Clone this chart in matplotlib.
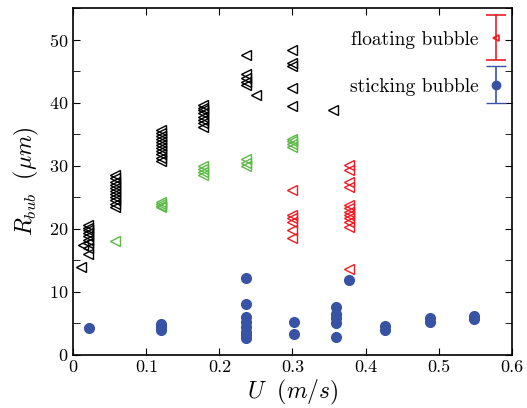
import numpy as np
import matplotlib.pyplot as plt
from matplotlib.ticker import MultipleLocator
from matplotlib.legend_handler import HandlerErrorbar

plt.rcParams['font.family'] = 'cmr10'
plt.rcParams['mathtext.fontset'] = 'cm'
plt.rcParams['axes.formatter.use_mathtext'] = True

# floating bubbles, black group
u_blk = [0.01, 0.013, 0.02, 0.02, 0.02, 0.02, 0.02, 0.02, 0.02, 0.02, 0.02,
         0.057, 0.057, 0.057, 0.057, 0.057, 0.057, 0.057, 0.057, 0.057, 0.057, 0.057,
         0.12, 0.12, 0.12, 0.12, 0.12, 0.12, 0.12, 0.12, 0.12, 0.12, 0.12,
         0.178, 0.178, 0.178, 0.178, 0.178, 0.178, 0.178, 0.178,
         0.236, 0.236, 0.236, 0.236, 0.236, 0.25,
         0.30, 0.30, 0.30, 0.30, 0.30, 0.355]
r_blk = [14.0, 17.5, 16.0, 17.0, 17.8, 18.3, 18.8, 19.3, 19.8, 20.2, 20.6,
         23.5, 24.0, 24.5, 25.0, 25.5, 26.0, 26.5, 27.0, 27.5, 28.0, 28.5,
         30.8, 31.3, 31.8, 32.3, 32.8, 33.3, 33.8, 34.3, 34.8, 35.2, 35.6,
         36.2, 36.8, 37.3, 37.8, 38.3, 38.8, 39.2, 39.6,
         42.8, 43.3, 44.0, 44.6, 47.5, 41.3,
         48.3, 46.3, 45.9, 42.3, 39.5, 38.9]

# floating bubbles, green group
u_grn = [0.057, 0.12, 0.12, 0.12, 0.12, 0.178, 0.178, 0.178, 0.178,
         0.236, 0.236, 0.236, 0.30, 0.30, 0.30, 0.30]
r_grn = [18.0, 23.4, 23.7, 24.0, 24.2, 28.5, 29.0, 29.5, 30.0,
         30.0, 30.5, 31.0, 33.0, 33.5, 34.0, 34.3]

# floating bubbles, red group
u_red = [0.30, 0.30, 0.30, 0.30, 0.30, 0.30,
         0.378, 0.378, 0.378, 0.378, 0.378, 0.378, 0.378, 0.378, 0.378, 0.378, 0.378, 0.378]
r_red = [26.2, 22.2, 21.7, 21.1, 19.8, 18.5,
         30.2, 29.4, 27.5, 26.7, 23.8, 23.3, 22.7, 22.2, 21.7, 21.1, 20.3, 13.6]

# sticking bubbles
u_stk = [0.022, 0.12, 0.12, 0.12,
         0.236, 0.236, 0.236, 0.236, 0.236, 0.236, 0.236, 0.236,
         0.302, 0.302, 0.359, 0.359, 0.359, 0.359, 0.359, 0.377,
         0.426, 0.426, 0.488, 0.488, 0.548, 0.548]
r_stk = [4.3, 4.0, 4.5, 4.9,
         12.2, 8.1, 6.0, 5.2, 4.5, 3.7, 3.2, 2.7,
         5.2, 3.3, 7.6, 6.5, 5.9, 5.1, 2.9, 11.9,
         4.6, 4.0, 5.9, 5.3, 6.1, 5.7]

c_grn = '#5cb946'
c_red = '#ee1c25'
c_blu = '#3953a4'

fig = plt.figure(figsize=(5.27, 4.08), dpi=100)
ax = fig.add_axes([0.139, 0.130, 0.832, 0.850])

ax.plot(u_blk, r_blk, ls='none', marker='<', ms=7, mfc='none', mec='black', mew=1)
ax.plot(u_grn, r_grn, ls='none', marker='<', ms=7, mfc='none', mec=c_grn, mew=1)
ax.plot(u_red, r_red, ls='none', marker='<', ms=7, mfc='none', mec=c_red, mew=1)
ax.plot(u_stk, r_stk, ls='none', marker='o', ms=7, color=c_blu)

# legend handles with error bars
h_float = ax.errorbar([np.nan], [np.nan], yerr=[1], fmt='<', ms=5, mfc='none', mew=1.2,
                      mec=c_red, ecolor=c_red, capsize=7, elinewidth=1.2, label='floating bubble')
h_stick = ax.errorbar([np.nan], [np.nan], yerr=[1], fmt='o', ms=6, color=c_blu,
                      ecolor=c_blu, capsize=7, elinewidth=1.2, label='sticking bubble')
ax.legend(handles=[h_float, h_stick], loc='upper right', bbox_to_anchor=(1.008, 0.958),
          frameon=False, markerfirst=False,
          fontsize=14, handlelength=1.2, handleheight=0.7, labelspacing=1.5,
          borderaxespad=0.0, handletextpad=0.3,
          handler_map={h_float: HandlerErrorbar(xerr_size=0.5, yerr_size=1.15),
                       h_stick: HandlerErrorbar(xerr_size=0.5, yerr_size=0.95)})

ax.set_xlim(0, 0.6)
ax.set_ylim(0, 55)
ax.set_xticks([0, 0.1, 0.2, 0.3, 0.4, 0.5, 0.6])
ax.set_xticklabels(['0', '0.1', '0.2', '0.3', '0.4', '0.5', '0.6'])
ax.set_yticks([0, 10, 20, 30, 40, 50])
ax.yaxis.set_minor_locator(MultipleLocator(5))
ax.tick_params(which='both', direction='in', top=True, right=True, labelsize=13)
ax.tick_params(which='major', length=5)
ax.tick_params(which='minor', length=5)
for s in ax.spines.values():
    s.set_linewidth(1.2)

ax.set_xlabel(r'$U\ \ (m/s)$', fontsize=17, labelpad=2)
ax.set_ylabel(r'$R_{bub}\ \ (\mu m)$', fontsize=17, labelpad=6)

fig.savefig('out.png', dpi=100)
